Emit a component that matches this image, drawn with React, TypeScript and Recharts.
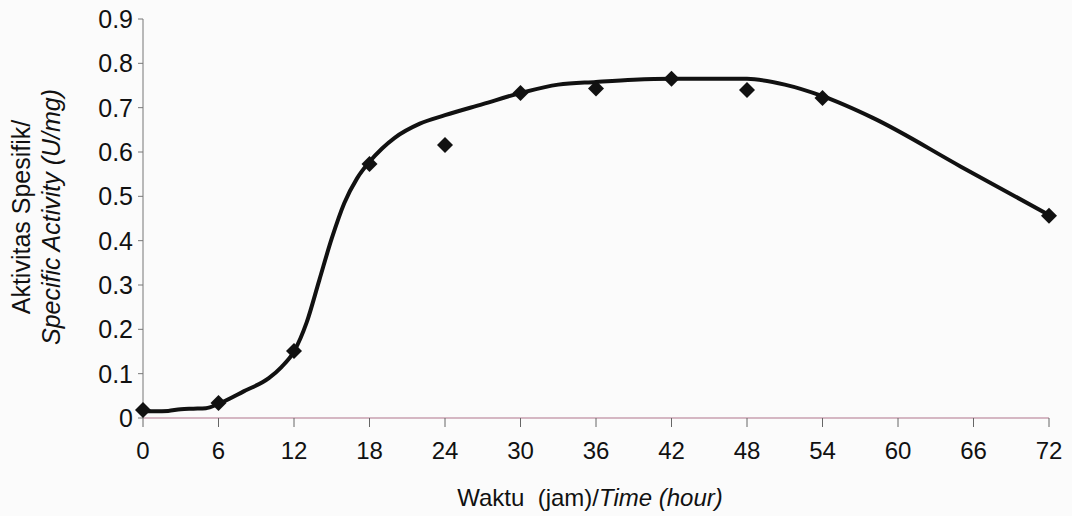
import React from "react";
import { ComposedChart, Line, Scatter, XAxis, YAxis } from "recharts";

// Measured specific activity (U/mg) at each sampling hour
const sampleHours = [0, 6, 12, 18, 24, 30, 36, 42, 48, 54, 72];
const sampleActivity = [0.018, 0.034, 0.151, 0.573, 0.616, 0.733, 0.743, 0.765, 0.74, 0.722, 0.456];

// Fitted curve
const curveHours = [0, 1, 2, 3, 4, 5, 6, 8, 10, 11, 12, 13, 14, 15, 16, 17, 18, 19, 20, 22, 24, 27, 30, 33, 36, 39, 42, 48, 51, 54, 58, 65, 72];
const curveActivity = [0.015, 0.015, 0.016, 0.02, 0.021, 0.022, 0.032, 0.06, 0.09, 0.115, 0.15, 0.215, 0.31, 0.405, 0.485, 0.54, 0.578, 0.608, 0.632, 0.664, 0.683, 0.708, 0.733, 0.752, 0.758, 0.763, 0.765, 0.765, 0.752, 0.726, 0.677, 0.567, 0.458];

const xTicks = [0, 6, 12, 18, 24, 30, 36, 42, 48, 54, 60, 66, 72];
const yTicks = [0, 0.1, 0.2, 0.3, 0.4, 0.5, 0.6, 0.7, 0.8, 0.9];

const samples = sampleHours.map((h, i) => ({ x: h, y: sampleActivity[i] }));
const curve = curveHours.map((h, i) => ({ x: h, y: curveActivity[i] }));

const FONT = "'Liberation Sans', Arial, sans-serif";

const Diamond = (props: any) => {
  const { cx, cy } = props;
  const r = 8;
  return (
    <polygon
      points={`${cx},${cy - r} ${cx + r},${cy} ${cx},${cy + r} ${cx - r},${cy}`}
      fill="#111"
    />
  );
};

export default function App() {
  return (
    <div style={{ position: "absolute", left: 0, top: 0, width: 1072, height: 516, background: "#fbfbfb", fontFamily: FONT }}>
      <ComposedChart width={1072} height={516} margin={{ top: 19, right: 23, left: 0, bottom: 0 }}>
        <XAxis
          type="number"
          dataKey="x"
          domain={[0, 72]}
          ticks={xTicks}
          interval={0}
          height={98}
          axisLine={{ stroke: "#c9a0b0", strokeWidth: 1.5 }}
          tickLine={{ stroke: "#666" }}
          tickSize={9}
          tick={{ fontSize: 24, fill: "#111", fontFamily: FONT, dy: 13 }}
        />
        <YAxis
          type="number"
          domain={[0, 0.9]}
          ticks={yTicks}
          interval={0}
          width={143}
          axisLine={{ stroke: "#777", strokeWidth: 1 }}
          tickLine={{ stroke: "#777" }}
          tickSize={5}
          tickFormatter={(v: number) => (v === 0 ? "0" : v.toFixed(1))}
          tick={{ fontSize: 25, fill: "#111", fontFamily: FONT, dx: -3 }}
        />
        <Line
          data={curve}
          dataKey="y"
          type="monotone"
          stroke="#111"
          strokeWidth={4}
          dot={false}
          activeDot={false}
          isAnimationActive={false}
        />
        <Scatter data={samples} dataKey="y" shape={<Diamond />} isAnimationActive={false} />
      </ComposedChart>

      <div
        style={{
          position: "absolute",
          left: 36,
          top: 217,
          transform: "translate(-50%, -50%) rotate(-90deg)",
          whiteSpace: "nowrap",
          fontSize: 25,
          lineHeight: "30px",
          textAlign: "center",
          color: "#111",
        }}
      >
        <div>Aktivitas Spesifik/</div>
        <div>
          <i>Specific Activity (U/mg)</i>
        </div>
      </div>

      <div
        style={{
          position: "absolute",
          left: 590,
          top: 498,
          transform: "translate(-50%, -50%)",
          whiteSpace: "nowrap",
          fontSize: 24,
          color: "#111",
        }}
      >
        Waktu&nbsp; (jam)/<i>Time (hour)</i>
      </div>
    </div>
  );
}
